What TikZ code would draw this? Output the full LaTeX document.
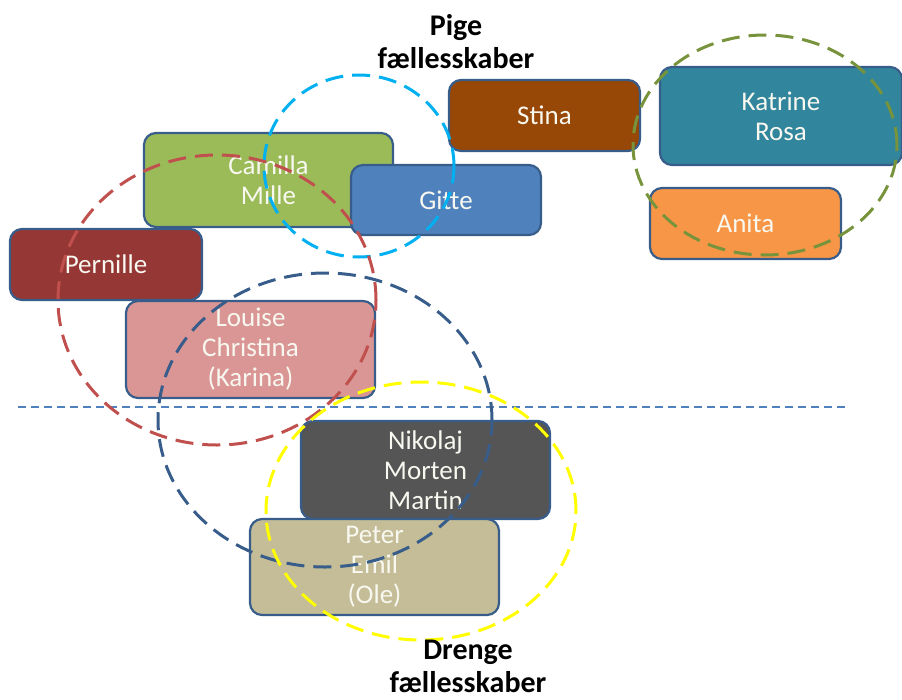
\documentclass[tikz,border=0pt]{standalone}
\usepackage{fontspec}
\setmainfont{Carlito}
\usetikzlibrary{shapes.geometric}
\definecolor{bord}{HTML}{385D8A}
\definecolor{cStina}{HTML}{974706}
\definecolor{cKatrine}{HTML}{31859C}
\definecolor{cAnita}{HTML}{F79646}
\definecolor{cCamilla}{HTML}{9BBB59}
\definecolor{cGitte}{HTML}{4F81BD}
\definecolor{cPernille}{HTML}{953735}
\definecolor{cLouise}{HTML}{D99694}
\definecolor{cNikolaj}{HTML}{555555}
\definecolor{cPeter}{HTML}{C4BD97}
\definecolor{ringCyan}{HTML}{00B0F0}
\definecolor{ringRed}{HTML}{C0504D}
\definecolor{ringBlue}{HTML}{385D8A}
\definecolor{ringYellow}{HTML}{FFFF00}
\definecolor{ringOlive}{HTML}{77933C}
\definecolor{hline}{HTML}{4F81BD}
\definecolor{txt}{HTML}{F8F8F0}
\begin{document}
\begin{tikzpicture}[x=1pt,y=-1pt,
  namebox/.style={rounded corners=12pt, draw=bord, line width=2.2pt, text=txt,
    align=center, font=\fontsize{27}{30}\selectfont, inner sep=0pt},
  ring/.style={ellipse, draw=#1, line width=3pt, dash pattern=on 18pt off 9pt, inner sep=0pt},
  titletext/.style={align=center, font=\bfseries\fontsize{30}{33}\selectfont, text=black, inner sep=0pt}]
\useasboundingbox (0,0) rectangle (902,699);
\node[namebox, fill=cStina, minimum width=191pt, minimum height=71pt] (stina) at (544.5,115.5) {Stina};
\node[namebox, fill=cKatrine, minimum width=242pt, minimum height=98pt] (katrine) at (781,116) {Katrine\\Rosa};
\node[namebox, fill=cAnita, minimum width=191pt, minimum height=71pt] (anita) at (745.5,223.5) {Anita};
\node[namebox, fill=cCamilla, minimum width=249pt, minimum height=94pt] (camilla) at (268.5,180) {Camilla\\Mille};
\node[namebox, fill=cGitte, minimum width=190pt, minimum height=70pt] (gitte) at (446,200) {Gitte};
\node[namebox, fill=cPernille, minimum width=192pt, minimum height=71pt] (pernille) at (106,264.5) {Pernille};
\node[namebox, fill=cLouise, minimum width=249pt, minimum height=97pt] (louise) at (250.5,349.5) {Louise\\Christina\\(Karina)};
\node[namebox, fill=cNikolaj, minimum width=249pt, minimum height=98pt] (nikolaj) at (425.5,470) {Nikolaj\\Morten\\Martin};
\node[namebox, fill=cPeter, minimum width=249pt, minimum height=96pt] (peter) at (374.5,567) {Peter\\Emil\\(Ole)};
\coordinate (hl) at (18,407);
\coordinate (hr) at (847,407);
\draw[hline, line width=1.3pt, dash pattern=on 8pt off 5pt] (hl) -- (hr);
\node[ring=ringCyan, minimum width=190pt, minimum height=182pt] (gcyan) at (359,166) {};
\node[ring=ringRed, minimum width=318pt, minimum height=290pt] (gred) at (217,300) {};
\node[ring=ringBlue, minimum width=334pt, minimum height=294pt] (gblue) at (325,420) {};
\node[ring=ringYellow, minimum width=310pt, minimum height=258pt] (gyellow) at (421,511) {};
\node[ring=ringOlive, minimum width=264pt, minimum height=220pt] (golive) at (765,145) {};
\node[titletext] (pige) at (456,42) {Pige\\fællesskaber};
\node[titletext] (drenge) at (468,666) {Drenge\\fællesskaber};
\end{tikzpicture}
\end{document}
